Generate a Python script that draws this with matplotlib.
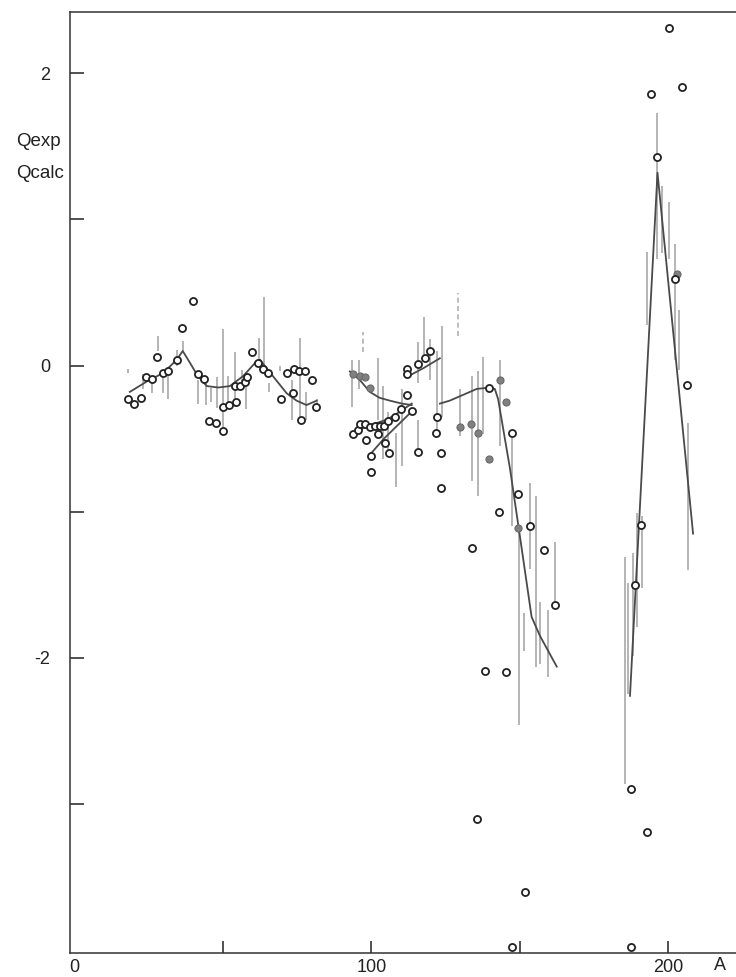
import matplotlib
matplotlib.use("Agg")
import matplotlib.pyplot as plt
import numpy as np

# open circles: mass number A, Qexp/Qcalc
open_a = [18.07, 19.98, 22.30, 24.01, 25.93, 27.64, 29.86, 31.57, 34.39, 36.01, 39.73, 41.45, 43.66,
          45.38, 47.59, 49.91, 49.91, 52.13, 54.35, 54.04, 55.76, 57.37, 57.97, 59.69, 61.90, 63.52,
          65.23, 69.46, 71.48, 73.70, 74.00, 75.71, 77.62, 76.21, 79.84, 81.35,
          93.85, 95.56, 96.17, 97.88, 99.49, 101.21, 102.92, 104.23, 105.74, 98.18, 102.32, 99.80,
          99.80, 104.63, 106.04, 107.96, 109.87, 111.89, 113.60, 111.89, 111.89, 115.82, 118.04,
          119.75, 115.82, 121.97, 121.76, 123.38, 123.38, 133.96, 139.70, 147.26, 143.03, 149.28,
          153.41, 158.14, 161.87, 138.29, 145.35, 135.67, 151.80, 147.46,
          200.27, 194.22, 204.60, 196.44, 206.52, 187.47, 193.01, 187.47, 190.80, 188.88, 202.28]
open_q = [-0.23, -0.26, -0.22, -0.08, -0.09, 0.06, -0.05, -0.04, 0.04, 0.26, 0.44, -0.06, -0.09,
          -0.38, -0.39, -0.45, -0.28, -0.27, -0.25, -0.14, -0.14, -0.11, -0.08, 0.09, 0.02, -0.02,
          -0.05, -0.23, -0.05, -0.19, -0.02, -0.04, -0.04, -0.37, -0.10, -0.28,
          -0.47, -0.44, -0.40, -0.40, -0.42, -0.41, -0.41, -0.41, -0.38, -0.51, -0.47, -0.62,
          -0.73, -0.53, -0.60, -0.35, -0.30, -0.20, -0.31, -0.02, -0.06, 0.01, 0.05,
          0.10, -0.59, -0.35, -0.46, -0.60, -0.84, -1.25, -0.15, -0.46, -1.00, -0.88,
          -1.10, -1.26, -1.64, -2.09, -2.10, -3.10, -3.60, -3.98,
          2.31, 1.86, 1.91, 1.43, -0.13, -2.90, -3.19, -3.98, -1.09, -1.50, 0.59]

# filled (grey) circles
fill_a = [93.85, 96.17, 97.88, 99.49, 129.83, 133.56, 135.87, 139.70, 143.33, 145.35, 149.58, 202.89]
fill_q = [-0.06, -0.07, -0.08, -0.15, -0.42, -0.40, -0.46, -0.64, -0.10, -0.25, -1.11, 0.63]

# error bars: A, lower, upper
err_a = [18.07, 23.11, 25.93, 28.14, 29.86, 31.57, 34.39, 36.41, 41.65, 44.27, 45.98, 47.80, 50.11, 51.83,
         54.04, 56.26, 57.77, 62.21, 63.82, 65.63, 69.26, 73.39, 75.91, 77.93, 81.56,
         93.55, 95.97, 102.32, 104.03, 105.74, 108.26, 110.18, 115.82, 115.82, 117.73, 119.75, 121.97,
         123.68, 129.83, 133.76, 136.07, 137.69, 143.33, 147.26, 149.88, 153.41, 155.52, 151.59,
         156.83, 159.66, 161.87,
         185.45, 186.56, 188.07, 189.59, 191.10, 192.81, 196.44, 197.85, 200.27, 202.28, 203.69, 206.62]
err_lo = [-0.05, -0.16, -0.19, 0.10, -0.19, -0.23, 0.00, 0.10, -0.26, -0.27, -0.25, -0.29, -0.42, -0.29,
          -0.28, -0.17, -0.30, 0.00, -0.06, -0.18, -0.04, -0.37, -0.39, -0.37, -0.28,
          -0.28, -0.16, -0.37, -0.64, -0.60, -0.83, -0.69, -0.12, -0.58, 0.04, -0.10, -0.48,
          -0.35, -0.48, -0.79, -0.89, -0.47, -0.55, -1.10, -2.46, -1.39, -2.06, -1.95,
          -2.04, -2.13, -1.65,
          -2.86, -2.25, -1.99, -1.79, -1.52, 0.28, 0.73, 0.77, 0.73, 0.04, -0.03, -1.40]
err_hi = [-0.02, -0.06, -0.08, 0.20, -0.03, -0.06, 0.11, 0.17, -0.10, -0.08, -0.15, -0.08, 0.25, -0.07,
          0.09, -0.03, -0.06, 0.19, 0.47, -0.12, 0.00, -0.10, 0.19, -0.18, -0.23,
          0.04, 0.04, 0.05, -0.14, -0.32, -0.46, -0.16, 0.16, -0.37, 0.33, 0.18, 0.10,
          0.27, -0.16, -0.07, -0.04, 0.06, 0.04, -0.48, -1.12, -0.80, -0.89, -1.69,
          -1.62, -1.67, -1.21,
          -1.31, -1.49, -1.28, -1.01, -1.03, 0.78, 1.73, 1.23, 1.12, 0.83, 0.38, -0.39]

# dashed error bars
dash_a = [97.18, 129.32]
dash_lo = [0.09, 0.20]
dash_hi = [0.23, 0.50]

# calculated curves
curves = [
    ([18.57, 24.21, 29.86, 34.39, 36.41, 38.83, 41.15, 44.47, 48.40, 52.33, 56.87, 61.30, 62.41,
      66.34, 71.48, 74.80, 78.13, 81.56],
     [-0.18, -0.11, -0.05, 0.04, 0.10, 0.02, -0.06, -0.14, -0.15, -0.14, -0.07, 0.03, 0.04,
      -0.06, -0.19, -0.24, -0.27, -0.24]),
    ([92.74, 96.17, 99.49, 102.72, 106.25, 110.28, 113.60], [-0.04, -0.10, -0.18, -0.22, -0.24, -0.26, -0.27]),
    ([93.65, 99.19, 105.24, 109.27, 113.60], [-0.46, -0.41, -0.37, -0.32, -0.26]),
    ([99.49, 104.23, 109.27, 113.80], [-0.61, -0.50, -0.40, -0.31]),
    ([111.69, 117.33, 123.08], [-0.08, -0.02, 0.05]),
    ([123.08, 126.40, 130.94, 135.47, 139.70, 141.62, 142.73, 146.76, 150.08, 154.01, 156.83, 162.48],
     [-0.26, -0.24, -0.20, -0.16, -0.15, -0.16, -0.23, -0.71, -1.17, -1.72, -1.85, -2.06]),
    ([187.17, 196.44, 208.43], [-2.26, 1.32, -1.15]),
]

plt.rcParams['font.family'] = ['Liberation Sans', 'DejaVu Sans']

fig = plt.figure(figsize=(7.36, 9.77), dpi=100)
ax = fig.add_axes([70 / 736, 24 / 977, 666 / 736, 941 / 977])

ax.vlines(err_a, err_lo, err_hi, colors='#a8a8a8', linewidth=1.2, zorder=1)
ax.vlines(dash_a, dash_lo, dash_hi, colors='#b0b0b0', linewidth=1.2, linestyles=(0, (3, 2)), zorder=1)

for xs, ys in curves:
    ax.plot(xs, ys, color='#4a4a4a', linewidth=1.3, zorder=2)

ax.scatter(fill_a, fill_q, s=26, facecolor='#808080', edgecolor='#6a6a6a', linewidth=0.8, zorder=3)
ax.scatter(open_a, open_q, s=26, facecolor='white', edgecolor='#222222', linewidth=1.3, zorder=4)

ax.set_xlim(-1.58, 222.9)
ax.set_ylim(-4.02, 2.42)

ax.set_xticks([0, 100, 200])
ax.set_xticks([50, 150], minor=True)
ax.set_yticks([-2, 0, 2])
ax.set_yticks([-3, -1, 1], minor=True)
ax.set_yticklabels(['-2', '0', '2'])

ax.tick_params(axis='both', which='both', direction='in', width=1.1, labelsize=13, colors='#222222')
ax.tick_params(axis='y', which='both', length=10, pad=14)
ax.tick_params(axis='x', which='both', length=9, pad=4)
# no tick mark at the origin, only its label
ax.xaxis.get_major_ticks()[0].tick1line.set_visible(False)

for side in ['left', 'bottom', 'top']:
    ax.spines[side].set_linewidth(1.1)
    ax.spines[side].set_color('#333333')
ax.spines['right'].set_visible(False)

fig.text(16 / 736, 1 - 141 / 977, 'Qexp', fontsize=13.5, va='center', ha='left', color='#222222')
fig.text(16 / 736, 1 - 174 / 977, 'Qcalc', fontsize=13.5, va='center', ha='left', color='#222222')
fig.text(714 / 736, 1 - 966 / 977, 'A', fontsize=13, va='center', ha='left', color='#222222')

plt.savefig('out.png', dpi=100)
